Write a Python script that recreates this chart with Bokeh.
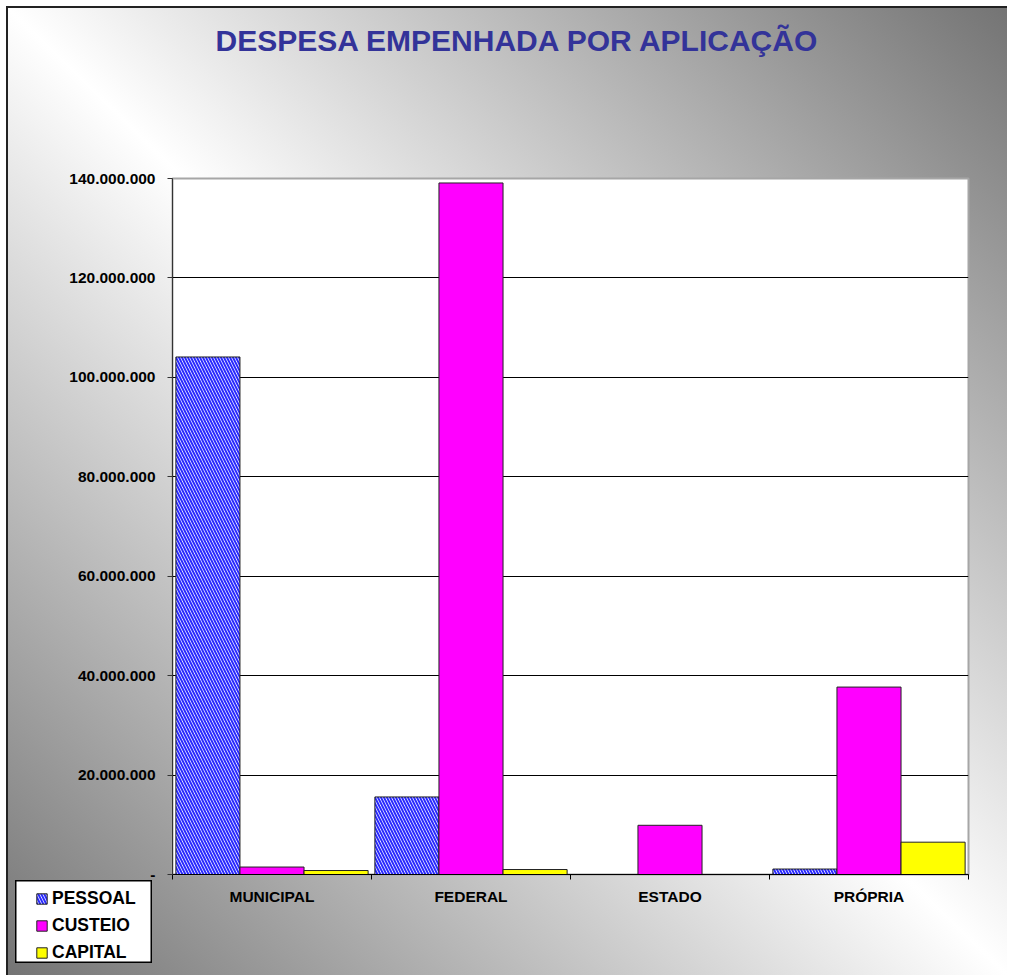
from bokeh.plotting import figure
from bokeh.layouts import column
from bokeh.models import ColumnDataSource, FixedTicker, Range1d, Title
from bokeh.embed import file_html
from bokeh.resources import INLINE

# ---- data ----
categories = ["MUNICIPAL", "FEDERAL", "ESTADO", "PRÓPRIA"]
series_names = ["PESSOAL", "CUSTEIO", "CAPITAL"]
pessoal = [104_100_000, 15_600_000, 0, 1_100_000]
custeio = [1_500_000, 139_100_000, 9_900_000, 37_700_000]
capital = [800_000, 1_000_000, 0, 6_500_000]
y_ticks = [0, 20_000_000, 40_000_000, 60_000_000, 80_000_000, 100_000_000, 120_000_000, 140_000_000]
y_tick_labels = ["-" if v == 0 else f"{v:,}".replace(",", ".") for v in y_ticks]
title_text = "DESPESA EMPENHADA POR APLICAÇÃO"

FONT = "Liberation Sans"
W, H = 1001, 969
bar_w = 0.322

centers = [i + 0.5 for i in range(len(categories))]
src = ColumnDataSource(dict(
    x_p=[c - bar_w for c in centers], x_c=centers, x_k=[c + bar_w for c in centers],
    pessoal=pessoal, custeio=custeio, capital=capital))

styles = [
    dict(x="x_p", top="pessoal", fill_color="white", hatch_pattern="\\",
         hatch_color="#2a2aff", hatch_weight=2, hatch_scale=6),
    dict(x="x_c", top="custeio", fill_color="#ff00ff"),
    dict(x="x_k", top="capital", fill_color="#ffff00"),
]

# ---------------- main chart ----------------
p = figure(width=W, height=H, output_backend="svg", toolbar_location=None,
           x_range=Range1d(0, len(categories)), y_range=Range1d(0, y_ticks[-1]),
           min_border_left=164, min_border_right=41, min_border_top=170,
           min_border_bottom=103)
p.frame_align = False
p.margin = (6, 0, 0, 6)
p.border_fill_color = None
p.background_fill_color = "white"
p.outline_line_color = "#a6a6a6"
p.outline_line_width = 2
p.styles = {
    "background": "linear-gradient(to top right, #747474 0%, #ffffff 50%, #747474 100%)",
    "border-left": "2px solid #222",
    "border-top": "2px solid #222",
}

for st in styles:
    p.vbar(width=bar_w, source=src, line_color="#222222", line_width=1, **st)

p.xaxis.ticker = FixedTicker(ticks=centers, minor_ticks=list(range(len(categories) + 1)))
p.xaxis.major_label_overrides = {c: cat for c, cat in zip(centers, categories)}
p.xaxis.major_tick_out = 0
p.xaxis.major_tick_in = 0
p.xaxis.minor_tick_out = 5
p.xaxis.minor_tick_in = 0
p.xaxis.minor_tick_line_color = "black"
p.xaxis.axis_line_color = "black"
p.xaxis.major_label_text_font = FONT
p.xaxis.major_label_text_font_style = "bold"
p.xaxis.major_label_text_font_size = "15.5px"
p.xaxis.major_label_text_color = "black"
p.xaxis.major_label_standoff = 8

p.yaxis.ticker = FixedTicker(ticks=y_ticks)
p.yaxis.major_label_overrides = {v: s for v, s in zip(y_ticks, y_tick_labels)}
p.yaxis.major_tick_out = 5
p.yaxis.major_tick_in = 0
p.yaxis.minor_tick_out = 0
p.yaxis.minor_tick_in = 0
p.yaxis.axis_line_color = "#333333"
p.yaxis.major_tick_line_color = "#333333"
p.yaxis.major_label_text_font = FONT
p.yaxis.major_label_text_font_style = "bold"
p.yaxis.major_label_text_font_size = "15.5px"
p.yaxis.major_label_text_color = "black"
p.yaxis.major_label_standoff = 12

p.xgrid.visible = False
p.ygrid.ticker = FixedTicker(ticks=y_ticks[1:-1])
p.ygrid.grid_line_color = "black"
p.ygrid.grid_line_width = 1

# ---------------- title overlay ----------------
pt = figure(width=W, height=52, output_backend="svg", toolbar_location=None,
            x_axis_location=None, y_axis_location=None, title_location="below",
            min_border_left=0, min_border_right=0, min_border_top=0, min_border_bottom=0)
pt.frame_align = False
pt.margin = (-H, 0, 0, 8)
pt.border_fill_color = None
pt.background_fill_color = None
pt.outline_line_color = None
pt.grid.visible = False
pt.title = Title(text=title_text, text_font=FONT, text_font_style="bold",
                 text_font_size="30px", text_color="#333399", align="left",
                 vertical_align="top", offset=207, standoff=0)
pt.title_location = "below"

# ---------------- legend overlay ----------------
LW, LH = 137, 83
pl = figure(width=LW, height=LH, output_backend="svg", toolbar_location=None,
            x_axis_location=None, y_axis_location=None,
            min_border_left=0, min_border_right=0, min_border_top=0, min_border_bottom=0)
pl.frame_align = False
pl.margin = (882 - 8 - 52, 0, 0, 15)
pl.border_fill_color = None
pl.background_fill_color = "white"
pl.outline_line_color = "black"
pl.outline_line_width = 2
pl.grid.visible = False
for st, name in zip(styles, series_names):
    r = pl.vbar(width=bar_w, source=src, line_color="#222222", line_width=1,
                legend_label=name, **st)
    r.visible = False
lg = pl.legend[0]
lg.location = (20, 0)
lg.border_line_color = None
lg.background_fill_alpha = 0
lg.label_text_font = FONT
lg.label_text_font_style = "bold"
lg.label_text_font_size = "17.5px"
lg.label_text_color = "black"
lg.glyph_width = 13
lg.glyph_height = 13
lg.label_height = 19
lg.label_standoff = 4
lg.padding = 0
lg.spacing = 6
lg.margin = 0

layout = column(p, pt, pl)
open("out.html", "w").write(file_html(layout, INLINE))
